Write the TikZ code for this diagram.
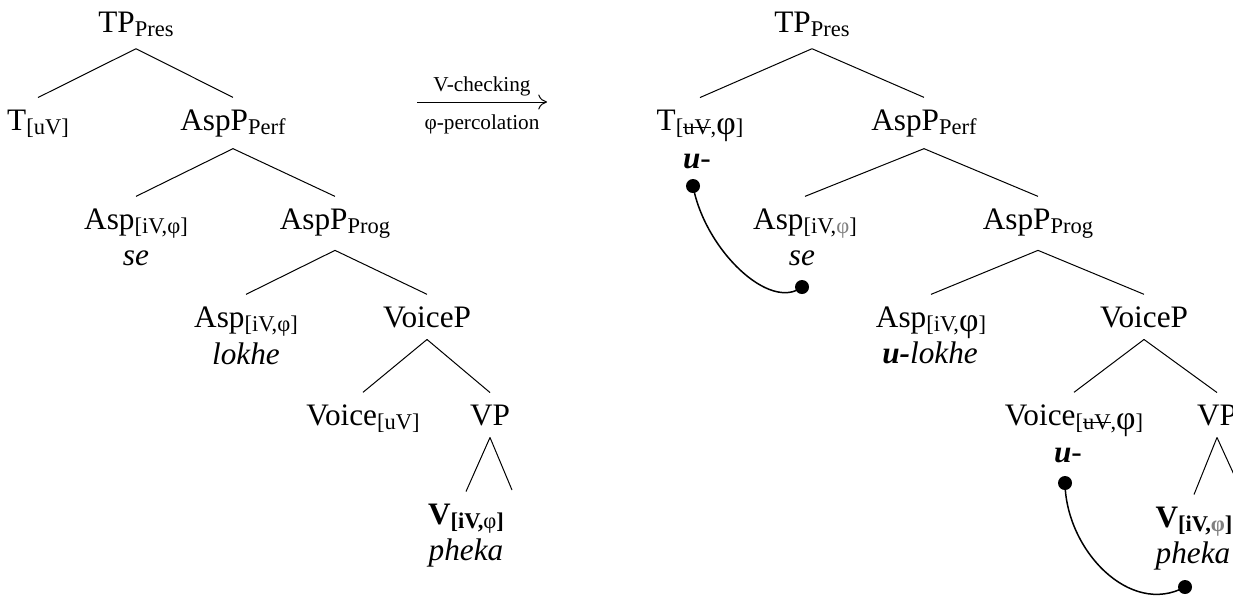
\documentclass[tikz,border=0pt]{standalone}
\usepackage{fontspec}
\setmainfont{Liberation Serif}
\usetikzlibrary{arrows.meta}
\newcommand{\lsub}[1]{\raisebox{-1.8pt}{\fontsize{9}{9}\selectfont #1}}
\newcommand{\strk}[1]{\setbox0\hbox{#1}\rlap{\rule[0.3em]{\wd0}{0.45pt}}\box0}
\newcommand{\bphi}{{\fontsize{13.5}{13.5}\selectfont φ}}
\newcommand{\gphi}{\textcolor{gray}{φ}}
\newcommand{\uaf}{\textbf{\textit{u}}}
\begin{document}
\begin{tikzpicture}[x=0.4pt, y=-0.4pt, font=\fontsize{12.5}{15}\selectfont,
            lbl/.style={anchor=base, inner xsep=0pt, inner ysep=4.6pt},
            mdot/.style={circle, fill, inner sep=0pt, minimum size=5.6pt},
            small/.style={font=\fontsize{8.5}{10}\selectfont}]
            \useasboundingbox (0,0) rectangle (1233,601);
            \node[lbl](TP) at (136,32) {TP\lsub{Pres}};
            \node[lbl](T) at (38,130) {T\lsub{[uV]}};
            \node[lbl](PerfP) at (233,130) {AspP\lsub{Perf}};
            \node[lbl](AspA) at (136,229) {Asp\lsub{[iV,φ]}};
            \node[lbl](se) at (136,265) {\textit{se}};
            \node[lbl](ProgP) at (335,229) {AspP\lsub{Prog}};
            \node[lbl](AspB) at (246,327) {Asp\lsub{[iV,φ]}};
            \node[lbl](lokhe) at (246,364) {\textit{lokhe}};
            \node[lbl](VoiceP) at (427,327) {VoiceP};
            \node[lbl](Voice) at (363,425) {Voice\lsub{[uV]}};
            \node[lbl](VP) at (490,425) {VP};
            \node[lbl](V) at (466,524) {\textbf{V\lsub{[iV,\textmd{φ}]}}};
            \node[lbl](pheka) at (466,560) {\textit{pheka}};
            \coordinate (E) at (512,490);
            \draw (TP.south) -- (T.north);
            \draw (TP.south) -- (PerfP.north);
            \draw (PerfP.south) -- (AspA.north);
            \draw (PerfP.south) -- (ProgP.north);
            \draw (ProgP.south) -- (AspB.north);
            \draw (ProgP.south) -- (VoiceP.north);
            \draw (VoiceP.south) -- (Voice.north);
            \draw (VoiceP.south) -- (VP.north);
            \draw (VP.south) -- (V.north);
            \draw (VP.south) -- (E);
            \coordinate (A) at (417,102);
            \coordinate (B) at (547,102);
            \draw[-{To[length=3.5pt, width=6pt]}](A) to node[above, small, yshift=-1.2pt] {V-checking}
                node[below, small, yshift=-1.5pt] {φ-percolation}(B);
            \node[lbl](TPr) at (812,32) {TP\lsub{Pres}};
            \node[lbl](Tr) at (700,130) {T\lsub{[\strk{uV},\bphi]}};
            \node[lbl](Tu) at (697,168) {\uaf-};
            \node[lbl](PerfPr) at (924,130) {AspP\lsub{Perf}};
            \node[lbl](AspAr) at (805,229) {Asp\lsub{[iV,\gphi]}};
            \node[lbl](ser) at (802,265) {\textit{se}};
            \node[lbl](ProgPr) at (1038,229) {AspP\lsub{Prog}};
            \node[lbl](AspBr) at (931,327) {Asp\lsub{[iV,\bphi]}};
            \node[lbl](lokher) at (930,363) {\textbf{\textit{u-}}\textit{lokhe}};
            \node[lbl](VoicePr) at (1144,327) {VoiceP};
            \node[lbl](Voicer) at (1074,425) {Voice\lsub{[\strk{uV},\bphi]}};
            \node[lbl](Vu) at (1068,462) {\uaf-};
            \node[lbl](VPr) at (1217,425) {VP};
            \node[lbl](Vr) at (1194,527) {\textbf{V\lsub{[iV,\gphi]}}};
            \node[lbl](phekar) at (1193,563) {\textit{pheka}};
            \coordinate (Er) at (1241,490);
            \draw (TPr.south) -- (Tr.north);
            \draw (TPr.south) -- (PerfPr.north);
            \draw (PerfPr.south) -- (AspAr.north);
            \draw (PerfPr.south) -- (ProgPr.north);
            \draw (ProgPr.south) -- (AspBr.north);
            \draw (ProgPr.south) -- (VoicePr.north);
            \draw (VoicePr.south) -- (Voicer.north);
            \draw (VoicePr.south) -- (VPr.north);
            \draw (VPr.south) -- (Vr.north);
            \draw (VPr.south) -- (Er);
            \node[mdot](D1) at (693,186) {};
            \node[mdot](D2) at (802,287) {};
            \node[mdot](D3) at (1065,483) {};
            \node[mdot](D4) at (1185,587) {};
            \draw[semithick] (D1.center) .. controls (705,250) and (770,312) .. (D2.center);
            \draw[semithick] (D3.center) .. controls (1066,550) and (1130,617) .. (D4.center);
            \end{tikzpicture}
\end{document}
